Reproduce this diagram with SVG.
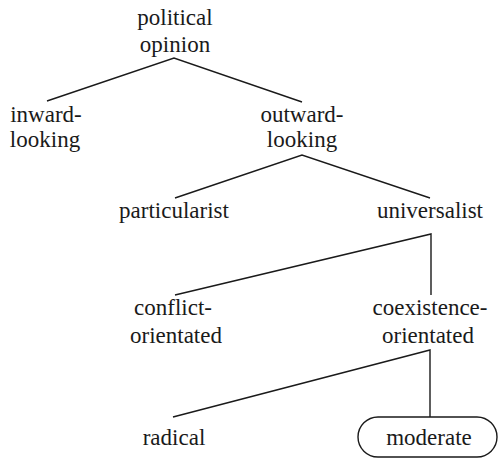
<svg xmlns="http://www.w3.org/2000/svg" width="498" height="459" viewBox="0 0 498 459">
<style>
.c polyline{stroke:#1a1a1a;stroke-width:1.4;fill:none}
</style>
<rect width="498" height="459" fill="#fff"/>
<g class="c" id="connectors">
<polyline points="47,101 174,58 302,102"/>
<polyline points="175,198 302,155 430,198"/>
<polyline points="175,295 431,234 431,295"/>
<polyline points="173,417 430,350 430,417"/>
</g>
<g font-family="Liberation Serif, DejaVu Serif, serif" font-size="23" fill="#1a1a1a" text-anchor="middle">
<g id="political-opinion"><text x="175" y="25">political</text><text x="175" y="52">opinion</text></g>
<g id="inward-looking"><text x="46" y="122">inward-</text><text x="45" y="147">looking</text></g>
<g id="outward-looking"><text x="302" y="122">outward-</text><text x="302" y="147">looking</text></g>
<g id="particularist"><text x="174" y="218">particularist</text></g>
<g id="universalist"><text x="430" y="218">universalist</text></g>
<g id="conflict-orientated"><text x="173" y="315">conflict-</text><text x="176" y="343">orientated</text></g>
<g id="coexistence-orientated"><text x="430" y="315">coexistence-</text><text x="428" y="343">orientated</text></g>
<g id="radical"><text x="174" y="445">radical</text></g>
<g id="moderate"><rect x="358" y="417" width="139" height="40" rx="20" fill="none" stroke="#1a1a1a" stroke-width="1.4"/><text x="429" y="445">moderate</text></g>
</g>
</svg>
